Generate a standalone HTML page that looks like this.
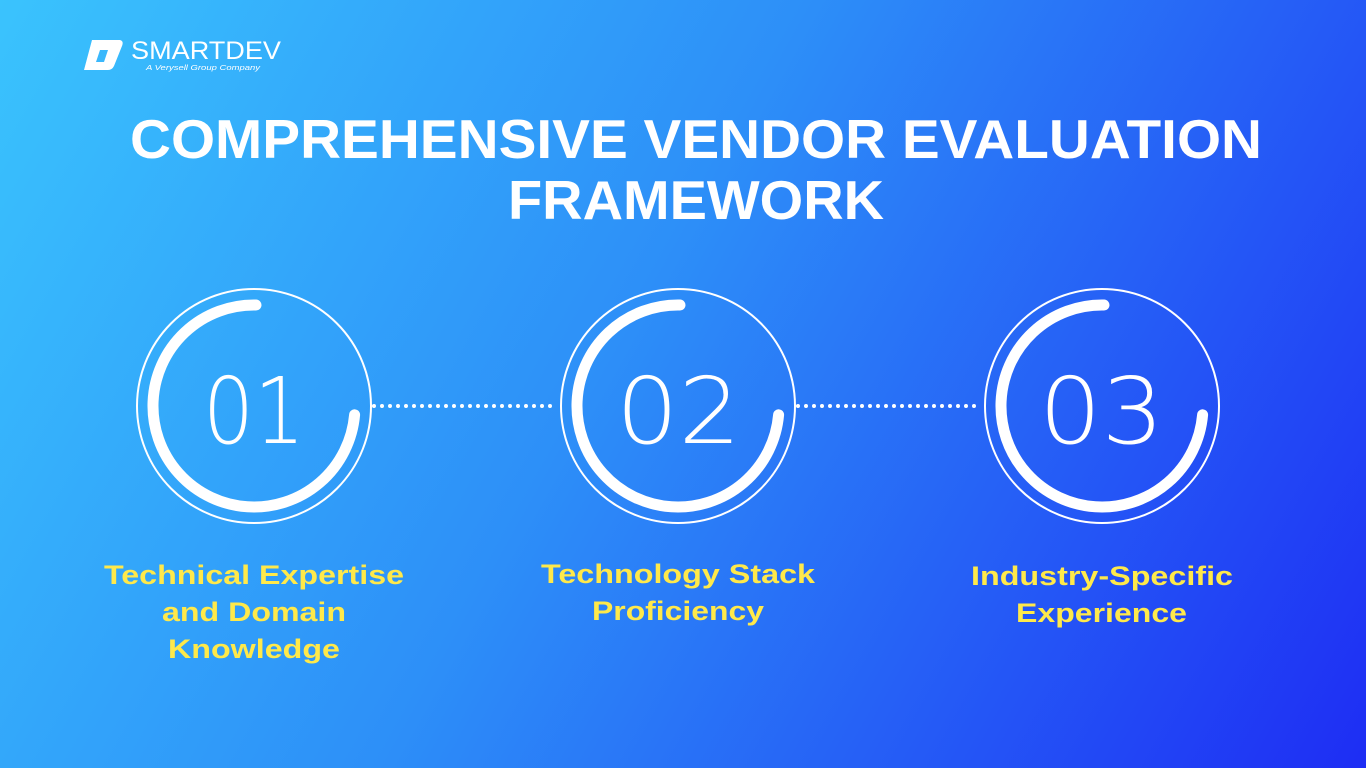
<!DOCTYPE html>
<html><head><meta charset="utf-8"><style>
html,body{margin:0;padding:0;width:1366px;height:768px;overflow:hidden}
svg{display:block}
</style></head><body>
<svg width="1366" height="768" viewBox="0 0 1366 768" xmlns="http://www.w3.org/2000/svg">
<defs>
<linearGradient id="bg" x1="0" y1="0" x2="1366" y2="768" gradientUnits="userSpaceOnUse">
<stop offset="0" stop-color="#3ac3fd"/>
<stop offset="0.45" stop-color="#2d8ff8"/>
<stop offset="1" stop-color="#1e2df4"/>
</linearGradient>
</defs>
<rect width="1366" height="768" fill="url(#bg)"/>
<path d="M92 40 L120 40 Q124 41 122 46 L114 66 Q112 70 108 70 L84 70 Z" fill="#fff"/>
<path d="M100 50 L108 50 L104 62 L96 62 Z" fill="#3ab8fc"/>
<text x="131" y="59" font-family="Liberation Sans, sans-serif" font-size="25" fill="#fff" textLength="150" lengthAdjust="spacingAndGlyphs">SMARTDEV</text>
<text x="146" y="70" font-family="Liberation Sans, sans-serif" font-size="7" font-style="italic" fill="#fff" textLength="114" lengthAdjust="spacingAndGlyphs">A Verysell Group Company</text>
<g font-family="Liberation Sans, sans-serif" font-weight="bold" font-size="55" fill="#fff">
<text x="130" y="158" textLength="1132" lengthAdjust="spacingAndGlyphs">COMPREHENSIVE VENDOR EVALUATION</text>
<text x="508" y="219" textLength="376" lengthAdjust="spacingAndGlyphs">FRAMEWORK</text>
</g>
<g stroke="#fff" stroke-width="4" stroke-linecap="round" stroke-dasharray="0 8">
<line x1="374" y1="406" x2="554" y2="406"/>
<line x1="798" y1="406" x2="980" y2="406"/>
</g>
<g fill="none" stroke="#fff">
<circle cx="254" cy="406" r="117" stroke-width="2"/>
<path d="M256 305 A101 101 0 1 0 354.6 414.8" stroke-width="11" stroke-linecap="round"/>
<circle cx="678" cy="406" r="117" stroke-width="2"/>
<path d="M680 305 A101 101 0 1 0 778.6 414.8" stroke-width="11" stroke-linecap="round"/>
<circle cx="1102" cy="406" r="117" stroke-width="2"/>
<path d="M1104 305 A101 101 0 1 0 1202.6 414.8" stroke-width="11" stroke-linecap="round"/>
</g>
<g font-family="DejaVu Sans ExtraLight, DejaVu Sans, sans-serif" font-weight="200" font-size="92" fill="#fff">
<text x="203" y="443" textLength="102" lengthAdjust="spacingAndGlyphs">01</text>
<text x="616" y="443" textLength="125" lengthAdjust="spacingAndGlyphs">02</text>
<text x="1039" y="443" textLength="125" lengthAdjust="spacingAndGlyphs">03</text>
</g>
<g font-family="Liberation Sans, sans-serif" font-weight="bold" font-size="27" fill="#ffe94a">
<text x="104" y="584" textLength="300" lengthAdjust="spacingAndGlyphs">Technical Expertise</text>
<text x="162" y="621" textLength="184" lengthAdjust="spacingAndGlyphs">and Domain</text>
<text x="168" y="658" textLength="172" lengthAdjust="spacingAndGlyphs">Knowledge</text>
<text x="541" y="583" textLength="274" lengthAdjust="spacingAndGlyphs">Technology Stack</text>
<text x="592" y="620" textLength="172" lengthAdjust="spacingAndGlyphs">Proficiency</text>
<text x="971" y="585" textLength="262" lengthAdjust="spacingAndGlyphs">Industry-Specific</text>
<text x="1016" y="622" textLength="171" lengthAdjust="spacingAndGlyphs">Experience</text>
</g>
</svg>
</body></html>
